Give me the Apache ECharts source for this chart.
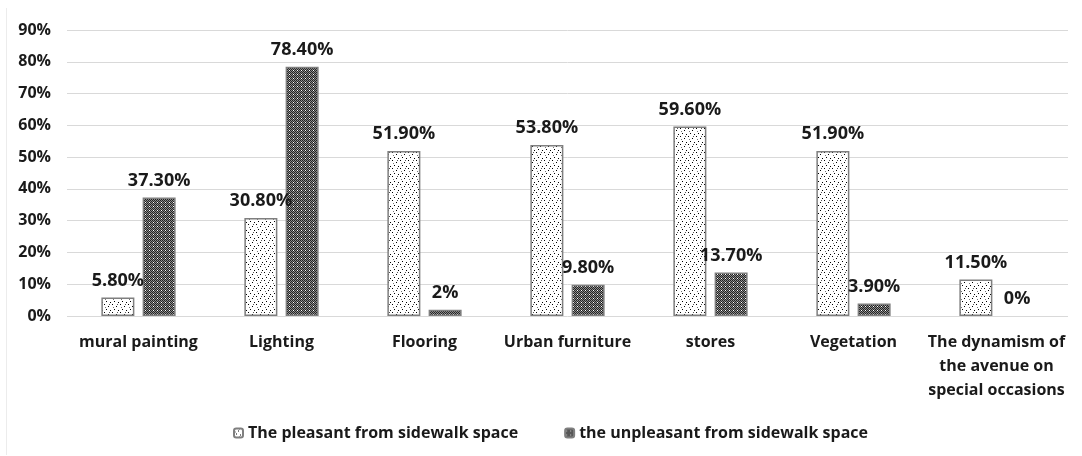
<!DOCTYPE html>
<html>
<head>
<meta charset="utf-8">
<script src="https://cdn.jsdelivr.net/npm/echarts@6/dist/echarts.min.js"></script>
<style>
  html, body { margin: 0; padding: 0; background: #fff; }
  #chart { width: 1082px; height: 456px; }
</style>
</head>
<body>
<div id="chart"></div>
<script>
const categories = [
  'mural painting',
  'Lighting',
  'Flooring',
  'Urban furniture',
  'stores',
  'Vegetation',
  'The dynamism of\nthe avenue on\nspecial occasions'
];
const pleasant = [5.8, 30.8, 51.9, 53.8, 59.6, 51.9, 11.5];
const unpleasant = [37.3, 78.4, 2, 9.8, 13.7, 3.9, 0];
const seriesNames = ['The pleasant from sidewalk space', 'the unpleasant from sidewalk space'];

const FONT = '"Open Sans", "Noto Sans", sans-serif';

// small tiled canvases for the Excel-like fill patterns
const makePattern = (size, bg, dots) => {
  const c = document.createElement('canvas');
  c.width = size;
  c.height = size;
  const ctx = c.getContext('2d');
  ctx.fillStyle = bg;
  ctx.fillRect(0, 0, size, size);
  dots.forEach(([x, y, col]) => {
    ctx.fillStyle = col;
    ctx.fillRect(x, y, 1, 1);
  });
  return c;
};

const lightDots = makePattern(8, '#ffffff', [
  [0, 0, '#000'], [4, 2, '#000'], [2, 5, '#000'], [6, 6, '#000'], [5, 0, '#555'], [1, 3, '#777']
]);

const darkDots = [];
for (let y = 0; y < 4; y++) {
  for (let x = 0; x < 4; x++) {
    if ((x + y) % 2 === 0) darkDots.push([x, y, '#222']);
  }
}
darkDots.push([1, 2, '#ffffff']);
const darkPattern = makePattern(4, '#8c8c8c', darkDots);

const fmt = (v) => Number.isInteger(v) ? v + '%' : v.toFixed(2) + '%';

// hide the outline of a zero-height bar, like Excel does
const withZeroBorder = (arr) => arr.map((v) => v === 0 ? { value: v, itemStyle: { borderWidth: 0 } } : v);

const chart = echarts.init(document.getElementById('chart'));

const labelStyle = {
  show: true,
  position: 'top',
  distance: 8,
  fontFamily: FONT,
  fontWeight: 'bold',
  fontSize: 18,
  color: '#1a1a1a',
  formatter: (p) => fmt(p.value)
};

const option = {
  animation: false,
  grid: {
    left: 67,
    right: 14,
    top: 30,
    bottom: 140
  },
  legend: {
    bottom: 10,
    left: 228,
    itemWidth: 9,
    itemHeight: 9,
    itemGap: 46,
    textStyle: {
      fontFamily: FONT,
      fontWeight: 'bold',
      fontSize: 16,
      color: '#1a1a1a'
    },
    data: seriesNames
  },
  xAxis: {
    type: 'category',
    data: categories,
    axisLine: { show: false },
    axisTick: { show: false },
    axisLabel: {
      interval: 0,
      margin: 14,
      fontFamily: FONT,
      fontWeight: 'bold',
      fontSize: 16,
      lineHeight: 24,
      color: '#1a1a1a'
    }
  },
  yAxis: {
    type: 'value',
    min: 0,
    max: 90,
    interval: 10,
    axisLine: { show: false },
    axisTick: { show: false },
    axisLabel: {
      margin: 16,
      fontFamily: FONT,
      fontWeight: 'bold',
      fontSize: 16,
      color: '#1a1a1a',
      formatter: '{value}%'
    },
    splitLine: {
      lineStyle: { color: '#d9d9d9', width: 1 }
    }
  },
  series: [
    {
      name: seriesNames[0],
      type: 'bar',
      data: withZeroBorder(pleasant),
      barWidth: 33,
      barGap: '25%',
      itemStyle: {
        color: { image: lightDots, repeat: 'repeat' },
        borderColor: '#7f7f7f',
        borderWidth: 1.5
      },
      label: labelStyle
    },
    {
      name: seriesNames[1],
      type: 'bar',
      data: withZeroBorder(unpleasant),
      barWidth: 33,
      barGap: '25%',
      itemStyle: {
        color: { image: darkPattern, repeat: 'repeat' },
        borderColor: '#7f7f7f',
        borderWidth: 1.5
      },
      label: labelStyle
    }
  ],
  graphic: [
    {
      type: 'line',
      shape: { x1: 6.5, y1: 8, x2: 6.5, y2: 455 },
      style: { stroke: '#ececec', lineWidth: 1 }
    }
  ]
};

chart.setOption(option);
</script>
</body>
</html>
